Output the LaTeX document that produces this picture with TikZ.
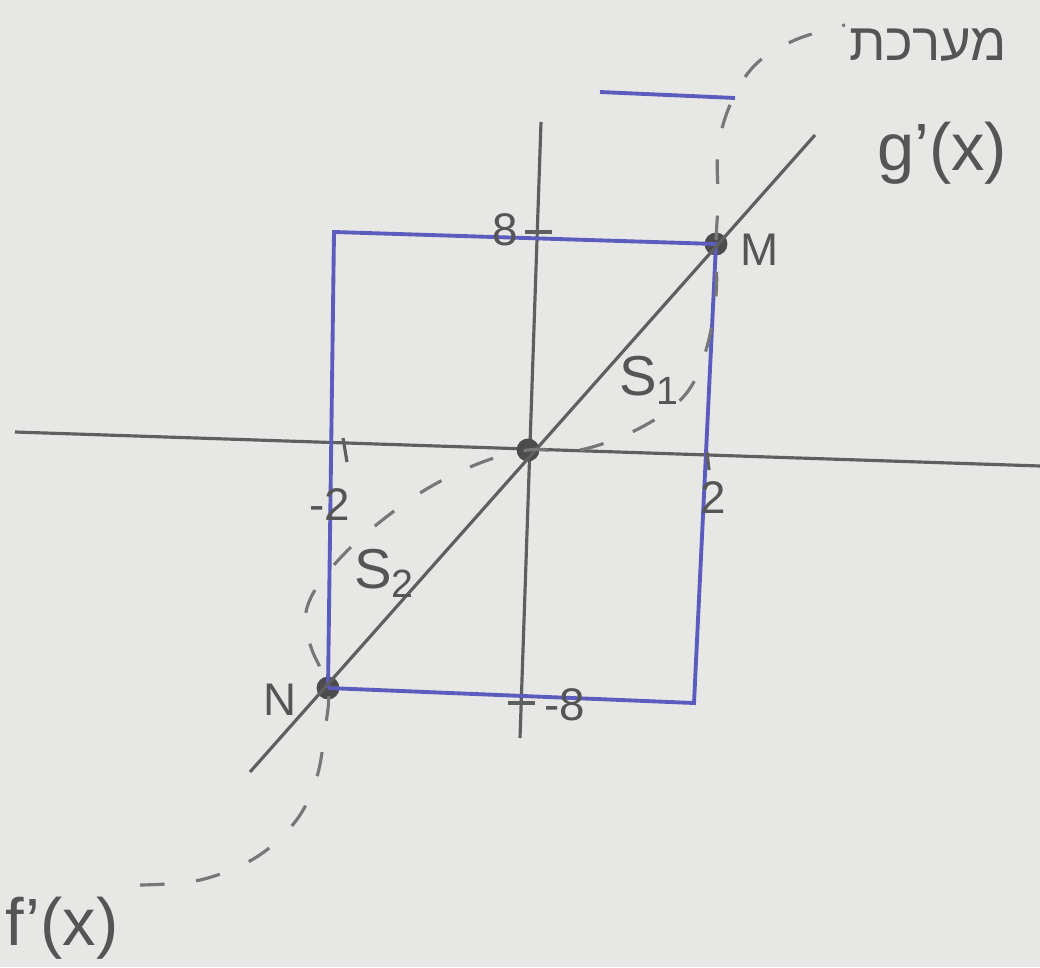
\documentclass[tikz,border=0pt]{standalone}
\usepackage{fontspec}
\setmainfont{Liberation Sans}
\newfontfamily\hebfont[Script=Hebrew]{Liberation Sans}
\TeXXeTstate=1
\definecolor{paper}{RGB}{231,231,229}
\definecolor{pencil}{RGB}{95,95,95}
\definecolor{pen}{RGB}{92,92,190}
\begin{document}
\begin{tikzpicture}[x=0.01cm,y=-0.01cm,
  axisline/.style={pencil,line width=0.9pt},
  boxline/.style={pen,line width=1.1pt},
  curveline/.style={pencil!85,line width=0.9pt,dash pattern=on 7pt off 9pt},
  dot/.style={circle,fill=pencil!80!black,inner sep=0pt,minimum size=6.5pt},
  lbl/.style={pencil!90!black,font=\fontsize{13}{16}\selectfont},
  biglbl/.style={pencil!90!black,font=\fontsize{16}{19}\selectfont}]
\fill[paper] (0,0) rectangle (1040,967);
\useasboundingbox (0,0) rectangle (1040,967);
% axes
\coordinate (xl) at (15,432);
\coordinate (xr) at (1040,466);
\coordinate (yt) at (541,122);
\coordinate (yb) at (520,738);
\draw[axisline] (xl) -- (xr);
\draw[axisline] (yt) -- (yb);
% points
\node[dot] (O) at (528,450) {};
\node[dot] (M) at (716,244) {};
\node[dot] (N) at (328,688) {};
\coordinate (TL) at (334,232);
\coordinate (BR) at (694,703);
% rectangle
\draw[boxline] (N.center) -- (TL) -- (M.center) -- (BR) -- (N.center);
% g'(x) line
\coordinate (gs) at (250,772);
\coordinate (ge) at (815,135);
\draw[axisline] (gs) -- (ge);
% top blue line
\coordinate (b1) at (600,92);
\coordinate (b2) at (735,98);
\draw[boxline] (b1) -- (b2);
% ticks
\coordinate (t8a) at (525,232); \coordinate (t8b) at (552,232);
\draw[axisline] (t8a) -- (t8b);
\coordinate (t8c) at (508,703); \coordinate (t8d) at (535,703);
\draw[axisline] (t8c) -- (t8d);
\coordinate (tm2a) at (343,438); \coordinate (tm2b) at (347,462);
\draw[axisline] (tm2a) -- (tm2b);
\coordinate (t2a) at (707,452); \coordinate (t2b) at (709,470);
\draw[axisline] (t2a) -- (t2b);
% dashed curve f'(x)
\draw[curveline] plot[smooth,tension=0.6] coordinates {
  (140,885) (200,880) (255,858) (295,822) (316,780) (325,730) (328,688)
  (312,650) (305,620) (315,590) (345,553) (385,518) (430,487) (480,463) (528,450)
  (580,450) (640,428) (685,395) (706,350) (716,295) (716,244)
  (718,200) (718,150) (730,105) (755,65) (795,40) (845,25)};
% labels
\node[lbl] (l8) at (505,230) {8};
\node[lbl] (lm8) at (565,705) {-8};
\node[lbl] (lm2) at (330,505) {-2};
\node[lbl] (l2) at (713,498) {2};
\node[biglbl] (S1) at (650,380) {S\textsubscript{1}};
\node[biglbl] (S2) at (385,573) {S\textsubscript{2}};
\node[lbl] (lM) at (760,250) {M};
\node[lbl] (lN) at (280,700) {N};
\node[biglbl,font=\fontsize{19}{23}\selectfont] (lg) at (942,153) {g'(x)};
\node[biglbl,font=\fontsize{19}{23}\selectfont] (lf) at (62,928) {f'(x)};
\node[biglbl,font=\hebfont\fontsize{15}{18}\selectfont] (heb) at (928,45) {\beginR מערכת\endR};
\end{tikzpicture}
\end{document}
